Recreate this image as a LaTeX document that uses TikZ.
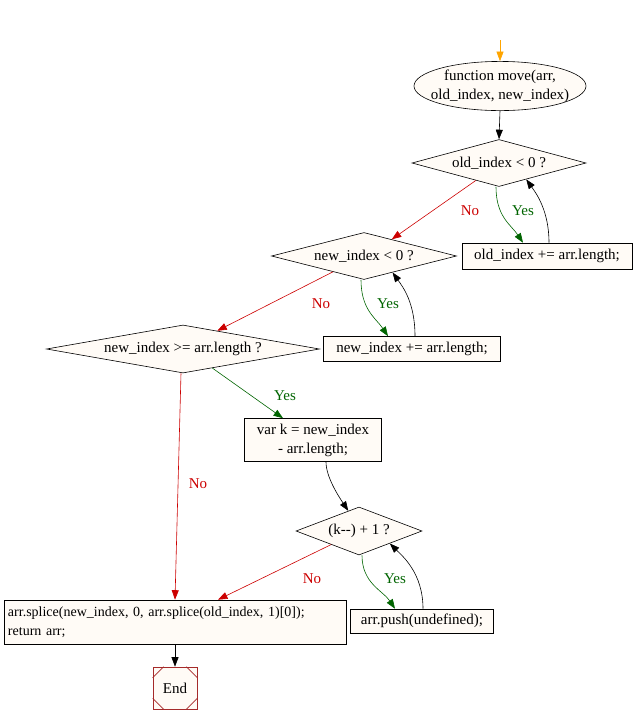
\documentclass[tikz,border=0pt]{standalone}
\usepackage{fontspec}
\setmainfont{Liberation Serif}
\usetikzlibrary{shapes.geometric,arrows.meta,calc}
\definecolor{nodefill}{HTML}{FFFBF6}
\definecolor{nored}{HTML}{CC0000}
\definecolor{yesgreen}{HTML}{006400}
\definecolor{endbrown}{HTML}{A52A2A}
\definecolor{startorange}{HTML}{FFA500}
\begin{document}
\begin{tikzpicture}[x=1pt,y=-1pt,
  font=\fontsize{15}{19}\selectfont,
  base/.style={draw=black, fill=nodefill, line width=0.6pt, inner sep=0pt},
  decision/.style={base, diamond},
  stepbox/.style={base, rectangle},
  arr/.style={-{Triangle[length=9.5pt,width=7pt]}, line width=0.6pt},
  noedge/.style={arr, draw=nored},
  yesedge/.style={arr, draw=yesgreen},
  backedge/.style={arr, draw=black},
  lblno/.style={text=nored},
  lblyes/.style={text=yesgreen}]
\useasboundingbox (0,0) rectangle (634,724);

\coordinate (start) at (500,40);
\node[base, ellipse, inner xsep=-9pt, inner ysep=1pt, minimum width=172pt, minimum height=48pt, align=center] (fn) at (500,86) {function move(arr,\\old\_index, new\_index)};
\node[decision, aspect=3.7, minimum width=174pt, minimum height=47pt] (d1) at (499,163) {old\_index < 0 ?};
\node[stepbox, minimum width=170pt, minimum height=26pt] (b1) at (547,256) {old\_index += arr.length;};
\node[decision, aspect=3.9, minimum width=185pt, minimum height=47pt] (d2) at (364,256) {new\_index < 0 ?};
\node[stepbox, minimum width=177pt, minimum height=25pt] (b2) at (412,349) {new\_index += arr.length;};
\node[decision, aspect=5.7, minimum width=273pt, minimum height=48pt] (d3) at (183,349) {new\_index >= arr.length ?};
\node[stepbox, minimum width=137pt, minimum height=43pt, align=center] (b3) at (313,440) {var k = new\_index\\- arr.length;};
\node[decision, aspect=2.6, minimum width=126pt, minimum height=48pt] (d4) at (359,531) {(k-{}-) + 1 ?};
\node[stepbox, minimum height=44pt, text width=334pt, inner xsep=4pt, align=left, font=\fontsize{14}{19}\selectfont] (b4) at (175,622) {arr.splice(new\_index, 0, arr.splice(old\_index, 1)[0]);\\return arr;};
\node[stepbox, minimum width=143pt, minimum height=24pt] (b5) at (422,621) {arr.push(undefined);};
\node[stepbox, draw=endbrown, minimum width=44pt, minimum height=42pt] (end) at (175,688) {End};
\draw[endbrown, line width=0.6pt] ($(end.north west)+(0,11)$) -- ($(end.north west)+(11,0)$);
\draw[endbrown, line width=0.6pt] ($(end.north east)+(0,11)$) -- ($(end.north east)+(-11,0)$);
\draw[endbrown, line width=0.6pt] ($(end.south west)+(0,-11)$) -- ($(end.south west)+(11,0)$);
\draw[endbrown, line width=0.6pt] ($(end.south east)+(0,-11)$) -- ($(end.south east)+(-11,0)$);

% edges
\draw[arr, draw=startorange] (start) -- (fn.north);
\draw[backedge] (fn.south) -- (d1.north);

\draw[yesedge] ([xshift=-3pt]d1.south) .. controls +(0,30) and +(-12,-18) .. ([xshift=-24pt]b1.north);
\draw[backedge] ([xshift=2pt]b1.north) .. controls +(0,-32) and +(10,14) .. (d1.-31);
\draw[noedge] (d1.-143) -- (d2.31);
\node[lblyes] at (523,211) {Yes};
\node[lblno] at (470,211) {No};

\draw[yesedge] ([xshift=-3pt]d2.south) .. controls +(0,30) and +(-12,-18) .. ([xshift=-24pt]b2.north);
\draw[backedge] ([xshift=3pt]b2.north) .. controls +(0,-34) and +(10,14) .. (d2.-30);
\draw[noedge] (d2.-153) -- (d3.28);
\node[lblyes] at (388,304) {Yes};
\node[lblno] at (321,304) {No};

\draw[yesedge] (d3.-33) -- ([xshift=-30pt]b3.north);
\node[lblyes] at (285,396) {Yes};
\draw[noedge] ([xshift=-2pt]d3.south) -- (b4.north);
\node[lblno] at (198,484) {No};

\draw[backedge] ([xshift=13pt]b3.south) .. controls +(0,15) and +(-10,-15) .. (d4.118);

\draw[yesedge] ([xshift=3pt]d4.south) .. controls +(0,28) and +(-12,-18) .. ([xshift=-27pt]b5.north);
\draw[backedge] ([xshift=1pt]b5.north) .. controls +(0,-36) and +(12,12) .. (d4.-22);
\draw[noedge] (d4.-154) -- ([xshift=43pt]b4.north);
\node[lblyes] at (395,579) {Yes};
\node[lblno] at (312,579) {No};

\draw[backedge] (b4.south) -- (end.north);
\end{tikzpicture}
\end{document}
